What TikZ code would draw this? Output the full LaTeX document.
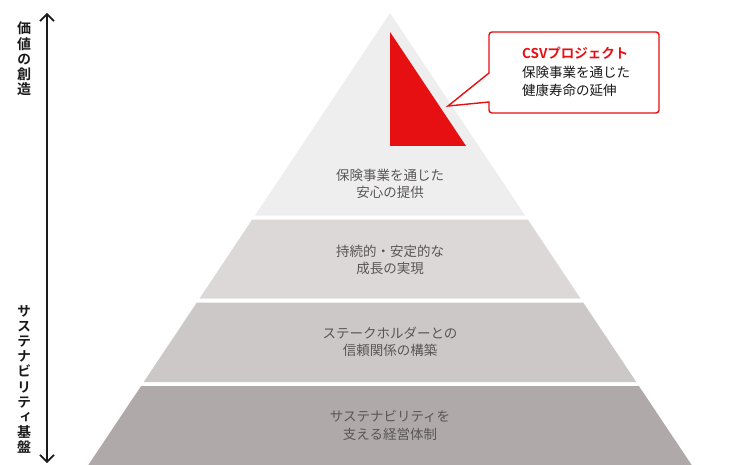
\documentclass[tikz,border=0pt]{standalone}
\usepackage{fontspec}
\usetikzlibrary{arrows.meta}
\setmainfont{Noto Sans CJK JP}[BoldFont={Noto Sans CJK JP Bold}]
\newfontfamily\vfont{Noto Sans CJK JP}[RawFeature=+vert, BoldFont={Noto Sans CJK JP Bold}]
\definecolor{layA}{HTML}{EFEEEF}
\definecolor{layB}{HTML}{DCD8D8}
\definecolor{layC}{HTML}{CBC8C7}
\definecolor{layD}{HTML}{AFAAA9}
\definecolor{csvred}{HTML}{E60F12}
\definecolor{laytext}{HTML}{595656}
\definecolor{ink}{HTML}{1A1A1A}
\tikzset{
  laylabel/.style={align=center, text=laytext, font=\fontsize{13.5}{17.5}\selectfont, inner sep=0pt},
  vlabel/.style={align=center, text=ink, font=\vfont\bfseries\fontsize{14}{15.2}\selectfont, inner sep=0pt},
  calloutline/.style={draw=csvred, line width=1.4pt, fill=white, line join=miter},
  axisarrow/.style={draw=ink, line width=1.6pt, {Straight Barb[length=7pt,width=14pt]}-{Straight Barb[length=7pt,width=14pt]}}
}
\begin{document}
\begin{tikzpicture}[x=1pt,y=-1pt]
\useasboundingbox (0,0) rectangle (730,465);
% pyramid layers
\fill[layA] (390,13) -- (525.1,215.5) -- (254.9,215.5) -- cycle;
\fill[layB] (252.2,219.5) -- (527.8,219.5) -- (580.5,298.5) -- (199.5,298.5) -- cycle;
\fill[layC] (196.8,302.5) -- (583.2,302.5) -- (636.3,382) -- (143.7,382) -- cycle;
\fill[layD] (141.1,386) -- (638.9,386) -- (691.7,465) -- (88.3,465) -- cycle;
% red triangle
\fill[csvred] (390,32) -- (390,146) -- (466,146) -- cycle;
% callout
\draw[calloutline] (489,73) [rounded corners=3pt] -- (489,32) -- (659,32) -- (659,113) -- (489,113) [sharp corners] -- (489,102) -- (448,106) -- cycle;
\node[anchor=west, align=left, inner sep=0pt, text=ink, font=\fontsize{13.5}{18.5}\selectfont] (callout) at (522,72)
  {{\bfseries\color{csvred}CSVプロジェクト}\\保険事業を通じた\\健康寿命の延伸};
% layer labels
\node[laylabel] (l1) at (390,184) {保険事業を通じた\\安心の提供};
\node[laylabel] (l2) at (390,260) {持続的・安定的な\\成長の実現};
\node[laylabel] (l3) at (390,342) {ステークホルダーとの\\信頼関係の構築};
\node[laylabel] (l4) at (390,425.5) {サステナビリティを\\支える経営体制};
% axis
\coordinate (top) at (47,13);
\coordinate (bot) at (47,463);
\draw[axisarrow] (bot) -- (top);
\node[vlabel] (v1) at (24,59) {価\\値\\の\\創\\造};
\node[vlabel] (v2) at (24,379.5) {サ\\ス\\テ\\ナ\\ビ\\リ\\テ\\ィ\\基\\盤};
\end{tikzpicture}
\end{document}
